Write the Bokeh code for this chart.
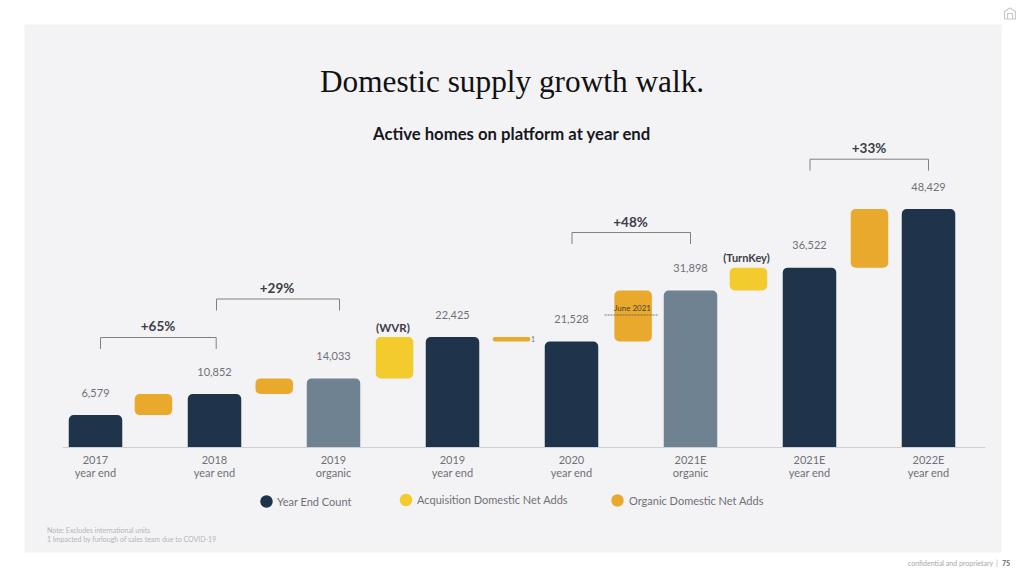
from bokeh.plotting import figure
from bokeh.models import Range1d, LinearAxis, FixedTicker, Label
from bokeh.core.properties import value
from bokeh.embed import file_html
from bokeh.resources import INLINE

# ---------- data ----------
tick_years = ["2017", "2018", "2019", "2019", "2020", "2021E", "2021E", "2022E"]
tick_kinds = ["year end", "year end", "organic", "year end", "year end", "organic", "year end", "year end"]
year_end_counts = [6579, 10852, 14033, 22425, 21528, 31898, 36522, 48429]
count_labels = ["6,579", "10,852", "14,033", "22,425", "21,528", "31,898", "36,522", "48,429"]
bar_kinds = ["year", "year", "organic", "year", "year", "organic", "year", "year"]
add_from = [6579, 10852, 14033, 21528, 21528, 31898, 36522]
add_to = [10852, 14033, 22425, 22425, 31898, 36522, 48429]
add_kinds = ["organic", "organic", "acq", "organic", "organic", "acq", "organic"]
add_slots = [0.487, 1.502, 2.513, 3.496, 4.518, 5.487, 6.504]
growth_labels = ["+65%", "+29%", "+48%", "+33%"]
legend_names = ["Year End Count", "Acquisition Domestic Net Adds", "Organic Domestic Net Adds"]

# ---------- style ----------
NAVY, SLATE, GOLD, YELLOW = "#1f344a", "#6f8291", "#e8a92c", "#f3cb2d"
PANEL, GREY, DARK = "#f3f3f6", "#707076", "#3d3d45"
SANS = "Lato"
W, H, OX, OY = 1016, 568, 0, 0
BASE_PX, TOP_PX = 447.0, 208.5
CX0, STEP = 95.0, 119.0
k = (BASE_PX - TOP_PX) / max(year_end_counts)

p = figure(width=W, height=H, output_backend="svg", toolbar_location=None,
           x_axis_type=None, y_axis_type=None, min_border=0,
           x_range=Range1d((OX - CX0) / STEP, (OX + W - CX0) / STEP),
           y_range=Range1d((BASE_PX - (OY + H)) / k, (BASE_PX - OY) / k),
           background_fill_color="white", border_fill_color="white")
p.grid.visible = False
p.outline_line_color = None
# second pair of ranges: page pixels, for decoration
p.extra_x_ranges["px"] = Range1d(OX, OX + W)
p.extra_y_ranges["px"] = Range1d(OY + H, OY)
PX = dict(x_range_name="px", y_range_name="px")

p.quad(left=[24], right=[1001], top=[24], bottom=[552], fill_color=PANEL, line_color=None,
       level="underlay", **PX)

# two axes at zero: year line and kind line of each tick label
ticks = FixedTicker(ticks=list(range(len(tick_years))))
axis_style = dict(fixed_location=0, ticker=ticks, bounds=(-0.277, 7.48),
                  major_tick_line_color=None, minor_tick_line_color=None,
                  major_label_text_color=GREY, major_label_text_font=SANS,
                  major_label_text_font_size="11px", major_label_text_font_style="normal")
axis2 = LinearAxis(major_label_overrides={i: c for i, c in enumerate(tick_kinds)},
                   axis_line_color=None, major_label_standoff=12, **axis_style)
axis1 = LinearAxis(major_label_overrides={i: c for i, c in enumerate(tick_years)},
                   axis_line_color="#cfcfd3", axis_line_width=1.2, major_label_standoff=-1, **axis_style)
p.add_layout(axis2, "below")
p.add_layout(axis1, "below")

# main bars
xs = list(range(len(year_end_counts)))
colors = [NAVY if b == "year" else SLATE for b in bar_kinds]
p.vbar(x=xs, top=year_end_counts, bottom=0, width=53.5 / STEP, fill_color=colors, line_color=None,
       border_radius=(5, 5, 0, 0))

# floating adds
big = [i for i in range(len(add_to)) if add_to[i] - add_from[i] > 1000]
thin = [i for i in range(len(add_to)) if i not in big]
acol = [GOLD if a == "organic" else YELLOW for a in add_kinds]
p.vbar(x=[add_slots[i] for i in big], top=[add_to[i] for i in big], bottom=[add_from[i] for i in big],
       width=37.5 / STEP, fill_color=[acol[i] for i in big], line_color=None, border_radius=5)
p.vbar(x=[add_slots[i] for i in thin], top=[add_to[i] for i in thin], bottom=[add_from[i] for i in thin],
       width=37.5 / STEP, fill_color=[acol[i] for i in thin], line_color=None, border_radius=2)

# value labels
p.text(x=xs, y=year_end_counts, text=count_labels, text_align="center", text_baseline="middle",
       y_offset=-22.5, text_color=GREY, text_font=value(SANS), text_font_size="11px")

def label(x, y, text, size, color, align="center", style="normal", font=SANS):
    p.add_layout(Label(x=x - 0.5, y=y - 1, text=text, text_font_size=size, text_color=color, text_align=align,
                       text_baseline="middle", text_font_style=style, text_font=font, **PX))

label(512, 82, "Domestic supply growth walk.", "31.3px", "#111111", font="Liberation Serif")
label(512, 134, "Active homes on platform at year end", "16.7px", "#17171c", style="bold")

# growth brackets
br_x0 = [100, 216, 571.5, 809.5]
br_x1 = [215.7, 339, 690, 928]
br_top = [337, 298.5, 232, 158.7]
br_lab_x = [158, 277, 630.5, 869]
br_lab_y = [326.5, 288, 222, 148]
for a, b, t, lx, ly, txt in zip(br_x0, br_x1, br_top, br_lab_x, br_lab_y, growth_labels):
    p.line([a, a, b, b], [t + 11.5, t, t, t + 11.5], line_color="#808085", line_width=1, **PX)
    label(lx, ly, txt, "13.5px", DARK, style="bold")

label(393, 328, "(WVR)", "11.5px", DARK, style="bold")
label(746.5, 258, "(TurnKey)", "11px", DARK, style="bold")

# June 2021 marker
p.line([604, 658], [314.5, 314.5], line_color="#55555a", line_width=0.8, line_dash="2 1", **PX)
label(632.5, 308, "June 2021", "8px", "#4a4433")
label(533, 339, "1", "7px", GREY)

# legend
dot_x = [266, 405.5, 617]
dot_y = [501, 499.5, 500]
lab_x = [277, 417, 629]
p.scatter(x=dot_x, y=dot_y, size=12.5, fill_color=[NAVY, YELLOW, GOLD], line_color=None, **PX)
for lx, ly, txt in zip(lab_x, dot_y, legend_names):
    label(lx, ly + 0.5, txt, "11px", GREY, align="left")

# footnotes
label(47, 530.5, "Note: Excludes international units", "7px", "#b4b4b8", align="left")
label(47, 539.5, "1 Impacted by furlough of sales team due to COVID-19", "7px", "#b4b4b8", align="left")
label(908, 563.5, "confidential and proprietary", "7px", "#a6a6aa", align="left")
label(997, 563, "|", "7px", "#a6a6aa")
label(1002, 563.5, "75", "7px", "#66666a", align="left", style="bold")

# house mark, top right
p.multi_line(xs=[[1004, 1004, 1009.5, 1015, 1015, 1004], [1007, 1007, 1012, 1012]],
             ys=[[18.5, 11, 7.5, 11, 18.5, 18.5], [18.5, 13, 13, 18.5]],
             line_color="#c4c8cc", line_width=1.2, **PX)

open("out.html", "w").write(file_html(p, INLINE))
